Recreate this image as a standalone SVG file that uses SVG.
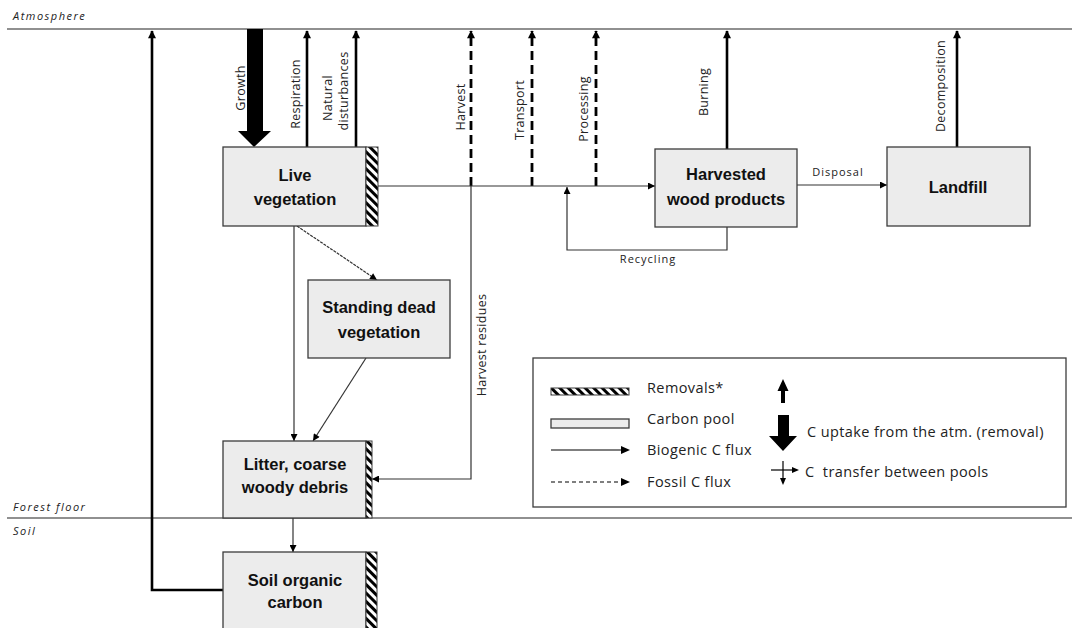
<svg xmlns="http://www.w3.org/2000/svg" width="1072" height="628" viewBox="0 0 1072 628">
<style>
.zone{font-family:"Open Sans","Liberation Sans",sans-serif;font-size:11px;font-style:italic;letter-spacing:1.5px;fill:#222}
.sep{stroke:#222;stroke-width:1.2;fill:none}
.box{fill:#ececec;stroke:#3c3c3c;stroke-width:1.3}
.hatch{fill:url(#hp);stroke:#3c3c3c;stroke-width:1}
.nt{font-family:"Liberation Sans",Arial,sans-serif;font-size:16.5px;font-weight:bold;fill:#111;text-anchor:middle}
.fl{font-family:"Open Sans","Liberation Sans",sans-serif;font-size:12.5px;fill:#222;text-anchor:middle;letter-spacing:0.3px}
.sl{font-family:"Open Sans","Liberation Sans",sans-serif;font-size:11px;fill:#222;text-anchor:middle;letter-spacing:1px}
.lg{font-family:"Open Sans","Liberation Sans",sans-serif;font-size:14.5px;fill:#222;letter-spacing:0.4px}
.thick{stroke:#000;stroke-width:2.6;fill:none;marker-end:url(#ab)}
.dash{stroke:#000;stroke-width:2.8;fill:none;stroke-dasharray:9,5;marker-end:url(#ab)}
.thin{stroke:#333;stroke-width:1.2;fill:none;marker-end:url(#as)}
</style>
<defs>
<pattern id="hp" patternUnits="userSpaceOnUse" width="6" height="6" patternTransform="rotate(-45)">
<rect width="6" height="6" fill="#fff"/>
<rect width="3" height="6" fill="#000"/>
</pattern>
<marker id="ab" viewBox="0 0 10 10" refX="9" refY="5" markerWidth="9" markerHeight="8" markerUnits="userSpaceOnUse" orient="auto">
<path d="M0,0 L10,5 L0,10 z" fill="#000"/>
</marker>
<marker id="as" viewBox="0 0 10 10" refX="10" refY="5" markerWidth="8" markerHeight="7" markerUnits="userSpaceOnUse" orient="auto">
<path d="M0,0 L10,5 L0,10 z" fill="#000"/>
</marker>
</defs>

<rect width="1072" height="628" fill="#fff"/>

<g id="zones">
<line class="sep" x1="7" y1="29" x2="1072" y2="29"/>
<line class="sep" x1="7" y1="518" x2="1072" y2="518"/>
<text class="zone" x="13" y="20">Atmosphere</text>
<text class="zone" x="13" y="511">Forest floor</text>
<text class="zone" x="13" y="535">Soil</text>
</g>

<g id="connectors">
<polygon points="247,29 263,29 263,131 271,131 254,147 238,131 247,131" fill="#000"/>
<path class="thick" d="M223,590 H152 V31"/>
<path class="thick" d="M307,147 V31"/>
<path class="thick" d="M356,147 V31"/>
<path class="dash" d="M471,186 V31"/>
<path class="dash" d="M532,186 V31"/>
<path class="dash" d="M596,186 V31"/>
<path class="thick" d="M727,149 V31"/>
<path class="thick" d="M957,147 V31"/>
<path class="thin" d="M378,186 H655"/>
<path class="thin" d="M471,186 V479 H372"/>
<path class="thin" d="M727,227 V250 H567 V187"/>
<path class="thin" d="M797,185 H887"/>
<path class="thin" d="M294,226 V441"/>
<path class="thin" d="M297,226 L377,280" stroke-dasharray="3,1"/>
<path class="thin" d="M366,358 L313,441"/>
<path class="thin" d="M293,518 V552"/>
<text class="fl" transform="translate(245,88) rotate(-90)">Growth</text>
<text class="fl" transform="translate(300,94) rotate(-90)">Respiration</text>
<text class="fl" transform="translate(332,98) rotate(-90)">Natural</text>
<text class="fl" transform="translate(348,91) rotate(-90)">disturbances</text>
<text class="fl" transform="translate(465,107) rotate(-90)">Harvest</text>
<text class="fl" transform="translate(524,110) rotate(-90)">Transport</text>
<text class="fl" transform="translate(588,109) rotate(-90)">Processing</text>
<text class="fl" transform="translate(708,92) rotate(-90)">Burning</text>
<text class="fl" transform="translate(945,86) rotate(-90)">Decomposition</text>
<text class="fl" transform="translate(486,345) rotate(-90)">Harvest residues</text>
<text class="sl" x="648" y="263">Recycling</text>
<text class="sl" x="838" y="176">Disposal</text>
</g>

<g id="live-vegetation">
<rect class="box" x="223" y="147" width="143" height="79"/>
<rect class="hatch" x="366" y="147" width="12" height="79"/>
<text class="nt" x="295" y="181">Live</text>
<text class="nt" x="295" y="205">vegetation</text>
</g>

<g id="standing-dead">
<rect class="box" x="308" y="280" width="142" height="78"/>
<text class="nt" x="379" y="313">Standing dead</text>
<text class="nt" x="379" y="338">vegetation</text>
</g>

<g id="litter">
<rect class="box" x="223" y="441" width="143" height="77"/>
<rect class="hatch" x="366" y="441" width="6" height="77"/>
<text class="nt" x="295" y="470">Litter, coarse</text>
<text class="nt" x="295" y="493">woody debris</text>
</g>

<g id="soil-organic-carbon">
<rect class="box" x="223" y="552" width="143" height="80"/>
<rect class="hatch" x="366" y="552" width="11" height="80"/>
<text class="nt" x="295" y="586">Soil organic</text>
<text class="nt" x="295" y="608">carbon</text>
</g>

<g id="harvested-wood-products">
<rect class="box" x="655" y="149" width="142" height="78"/>
<text class="nt" x="726" y="180">Harvested</text>
<text class="nt" x="726" y="205">wood products</text>
</g>

<g id="landfill">
<rect class="box" x="887" y="147" width="143" height="79"/>
<text class="nt" x="958" y="193">Landfill</text>
</g>

<g id="legend">
<rect x="533" y="358" width="533" height="149" fill="#fff" stroke="#3c3c3c" stroke-width="1.3"/>
<rect class="hatch" x="551" y="388" width="78" height="7"/>
<rect class="box" x="551" y="419" width="78" height="9"/>
<line x1="551" y1="450" x2="622" y2="450" stroke="#000" stroke-width="1.2"/>
<polygon points="621,446 630,450 621,454" fill="#000"/>
<line x1="551" y1="482" x2="622" y2="482" stroke="#000" stroke-width="1.2" stroke-dasharray="4,3"/>
<polygon points="621,478 630,482 621,486" fill="#000"/>
<text class="lg" x="647" y="393">Removals*</text>
<text class="lg" x="647" y="424">Carbon pool</text>
<text class="lg" x="647" y="455">Biogenic C flux</text>
<text class="lg" x="647" y="487">Fossil C flux</text>
<polygon points="783,379 788.5,391 785,391 785,403 781,403 781,391 777.5,391" fill="#000"/>
<polygon points="778,415 789,415 789,436 797,436 783,451 769,436 778,436" fill="#000"/>
<line x1="771" y1="470" x2="793" y2="470" stroke="#000" stroke-width="1.2"/>
<polygon points="792,467 799,470 792,473" fill="#000"/>
<line x1="783" y1="461" x2="783" y2="479" stroke="#000" stroke-width="1.2"/>
<polygon points="780,478 783,485 786,478" fill="#000"/>
<text class="lg" x="807" y="437">C uptake from the atm. (removal)</text>
<text class="lg" x="805" y="477" xml:space="preserve">C  transfer between pools</text>
</g>
</svg>
